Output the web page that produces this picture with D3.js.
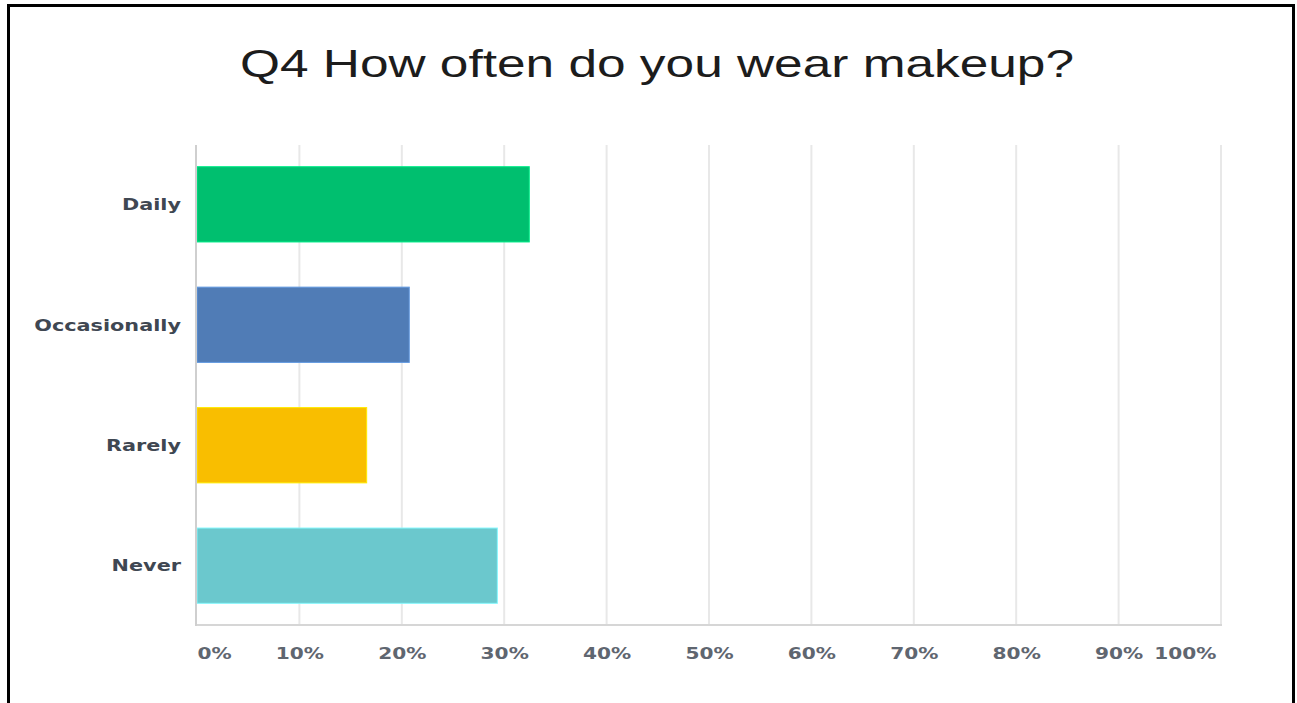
<!DOCTYPE html>
<html>
<head>
<meta charset="utf-8">
<script src="https://cdn.jsdelivr.net/npm/d3@7"></script>
<style>
  html, body { margin: 0; padding: 0; background: #fff; }
  svg { display: block; }
</style>
</head>
<body>
<svg id="chart" width="1297" height="703"></svg>
<script>
// Survey answers and their share of respondents (%)
const categories = ["Daily", "Occasionally", "Rarely", "Never"];
const shares = [32.45, 20.73, 16.57, 29.33];
const barColors = ["#00bf6f", "#507cb6", "#f9be00", "#6bc8cd"];
const tickValues = [0, 10, 20, 30, 40, 50, 60, 70, 80, 90, 100];
const tickLabels = ["0%", "10%", "20%", "30%", "40%", "50%", "60%", "70%", "80%", "90%", "100%"];
const titleText = "Q4 How often do you wear makeup?";

const svg = d3.select("#chart");
const stretch = 1.3; // wide horizontal text proportions

// Frame
svg.append("rect")
  .attr("x", 8.5).attr("y", 5.5)
  .attr("width", 1285).attr("height", 760)
  .attr("fill", "none").attr("stroke", "#000").attr("stroke-width", 3);

// Title
svg.append("text")
  .attr("transform", `translate(657,77) scale(1.318,1)`)
  .attr("text-anchor", "middle")
  .attr("font-family", "Liberation Sans, Arial, sans-serif")
  .attr("font-size", 39)
  .attr("fill", "#1c1c1c")
  .text(titleText);

const plot = { left: 197, right: 1221, top: 145, bottom: 625 };

const x = d3.scaleLinear().domain([0, 100]).range([plot.left, plot.right]);
const y = d3.scaleBand().domain(categories)
  .range([plot.top, plot.bottom])
  .paddingInner(0.375).paddingOuter(0.18);

// Vertical gridlines
svg.append("g")
  .selectAll("line")
  .data(tickValues.slice(1))
  .join("line")
  .attr("x1", d => x(d)).attr("x2", d => x(d))
  .attr("y1", plot.top).attr("y2", plot.bottom)
  .attr("stroke", "#e8e8e8").attr("stroke-width", 2);

// Bars
svg.append("g")
  .selectAll("rect")
  .data(categories.map((c, i) => ({ c, v: shares[i], col: barColors[i] })))
  .join("rect")
  .attr("x", x(0))
  .attr("y", d => y(d.c))
  .attr("width", d => x(d.v) - x(0))
  .attr("height", y.bandwidth())
  .attr("fill", d => d.col)
  .attr("stroke", d => d3.color(d.col).brighter(0.6))
  .attr("stroke-width", 1);

// Axis lines
svg.append("line")
  .attr("x1", plot.left - 1).attr("x2", plot.right + 1)
  .attr("y1", plot.bottom).attr("y2", plot.bottom)
  .attr("stroke", "#d6d6d6").attr("stroke-width", 2);
svg.append("line")
  .attr("x1", plot.left - 1).attr("x2", plot.left - 1)
  .attr("y1", plot.top).attr("y2", plot.bottom + 1)
  .attr("stroke", "#cfcfcf").attr("stroke-width", 2);

// Bottom axis labels
const xAxis = d3.axisBottom(x)
  .tickValues(tickValues)
  .tickFormat((d, i) => tickLabels[i])
  .tickSize(0).tickPadding(0);

const gx = svg.append("g")
  .attr("transform", `translate(0,${plot.bottom})`)
  .call(xAxis);
gx.select(".domain").remove();
gx.selectAll("text")
  .attr("y", 34).attr("dy", 0)
  .attr("font-family", "DejaVu Sans, sans-serif")
  .attr("font-weight", "bold")
  .attr("font-size", 15.5)
  .attr("fill", "#5f6670")
  .attr("transform", `scale(${stretch},1)`)
  .each(function (d, i, nodes) {
    if (i === 0) d3.select(this).attr("text-anchor", "start");
    if (i === nodes.length - 1) d3.select(this).attr("text-anchor", "end").attr("x", -5 / stretch);
  });

// Category labels
const yAxis = d3.axisLeft(y).tickSize(0).tickPadding(0);
const gy = svg.append("g")
  .attr("transform", `translate(${plot.left},0)`)
  .call(yAxis);
gy.select(".domain").remove();
gy.selectAll("text")
  .attr("x", -16 / stretch)
  .attr("dy", "0.36em")
  .attr("font-family", "DejaVu Sans, sans-serif")
  .attr("font-weight", "bold")
  .attr("font-size", 16)
  .attr("fill", "#3f4752")
  .attr("transform", `scale(${stretch},1)`);
</script>
</body>
</html>
